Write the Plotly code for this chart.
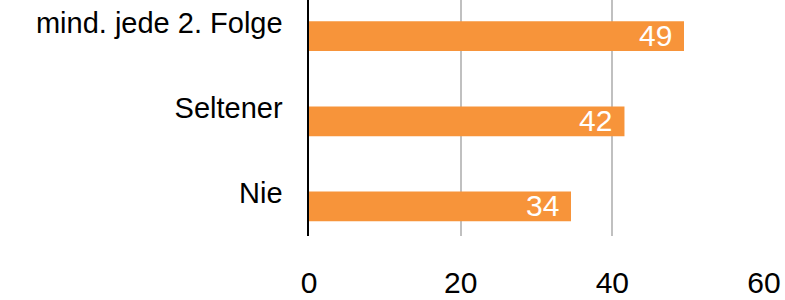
import plotly.graph_objects as go

categories = ["mind. jede 2. Folge", "Seltener", "Nie"]
values = [49.45, 41.6, 34.55]
value_labels = ["49", "42", "34"]
x_ticks = [0, 20, 40, 60]

BAR_COLOR = "#F7943A"
FONT = "Liberation Sans, Arial, sans-serif"
bar_offset = -0.018
bar_width = 0.35

fig = go.Figure()
fig.add_trace(go.Bar(
    y=categories, x=values, orientation="h",
    marker=dict(color=BAR_COLOR, line=dict(width=0)),
    offset=bar_offset, width=bar_width,
    hoverinfo="skip",
))

for i, (v, lab) in enumerate(zip(values, value_labels)):
    fig.add_annotation(
        x=v, y=i + bar_offset + bar_width / 2, xref="x", yref="y",
        text=lab, showarrow=False, xanchor="right", yanchor="middle",
        xshift=-10, yshift=1,
        font=dict(family=FONT, size=30, color="white"),
    )

fig.update_layout(
    width=785, height=300,
    margin=dict(l=309, r=21, t=0, b=63.5, pad=0),
    paper_bgcolor="white", plot_bgcolor="white",
    showlegend=False,
    font=dict(family=FONT, color="black"),
)
fig.update_xaxes(
    range=[0, 60], tickvals=x_ticks, ticktext=[str(t) for t in x_ticks],
    showgrid=True, gridcolor="#C0C0C0", gridwidth=2,
    zeroline=False, showline=False, ticks="",
    tickfont=dict(family=FONT, size=30, color="black"),
    ticklabelstandoff=26,
)
fig.update_yaxes(
    type="category", categoryorder="array", categoryarray=categories,
    range=[2.504, -0.268],
    showgrid=False, zeroline=False,
    showline=True, linecolor="black", linewidth=1.6,
    ticks="", tickfont=dict(family=FONT, size=29, color="black"),
    ticklabelstandoff=19,
)

fig.write_html(
    "out.html",
    config={"displayModeBar": False, "staticPlot": True},
    post_script="document.body.style.margin='0';document.body.style.overflow='hidden';",
)
